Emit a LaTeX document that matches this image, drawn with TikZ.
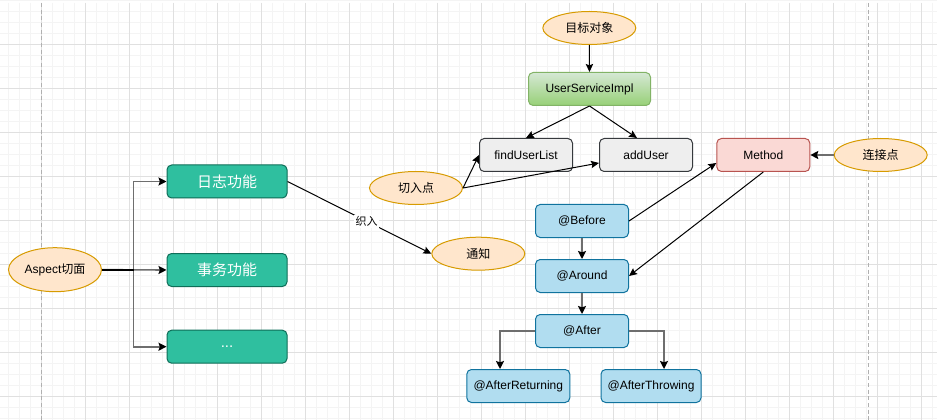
\documentclass[tikz,border=0pt]{standalone}
\usepackage{fontspec}
\setmainfont{Liberation Sans}
\newfontfamily\cjk{Noto Sans CJK SC}
\usetikzlibrary{shapes.geometric,arrows.meta,calc}
\definecolor{minorg}{HTML}{F4F4F4}
\definecolor{majorg}{HTML}{E0E0E0}
\definecolor{pageb}{HTML}{B0B0B0}
\definecolor{orfill}{HTML}{FFE6CC}
\definecolor{ordraw}{HTML}{D79B00}
\definecolor{gyfill}{HTML}{EEEEEE}
\definecolor{gydraw}{HTML}{36393D}
\definecolor{grtop}{HTML}{D5E8D4}
\definecolor{grbot}{HTML}{97D077}
\definecolor{grdraw}{HTML}{82B366}
\definecolor{rdfill}{HTML}{FAD9D5}
\definecolor{rddraw}{HTML}{B85450}
\definecolor{blfill}{HTML}{B1DDF0}
\definecolor{bldraw}{HTML}{10739E}
\definecolor{tlfill}{HTML}{2FBF9F}
\definecolor{tldraw}{HTML}{0E6E58}
\definecolor{edgegray}{HTML}{6E6E6E}
\begin{document}
\begin{tikzpicture}[x=0.75pt,y=-0.75pt,
  txt/.style={font=\fontsize{9}{11}\selectfont, text=black},
  ell/.style={ellipse, draw=ordraw, fill=orfill, line width=0.75pt, inner sep=0pt, minimum width=69.75pt, minimum height=24.75pt, txt},
  boxbase/.style={rectangle, rounded corners=3.5pt, line width=0.75pt, inner sep=0pt, minimum width=69.75pt, minimum height=24.75pt, txt},
  graybox/.style={boxbase, draw=gydraw, fill=gyfill},
  greenbox/.style={boxbase, draw=grdraw, top color=grtop, bottom color=grbot, minimum width=91.5pt},
  redbox/.style={boxbase, draw=rddraw, fill=rdfill},
  bluebox/.style={boxbase, draw=bldraw, fill=blfill},
  tealbox/.style={boxbase, draw=tldraw, fill=tlfill, minimum width=90pt, text=white, font=\fontsize{11.25}{13}\selectfont},
  blk/.style={draw=black, line width=0.75pt, -{Stealth[length=6pt,width=5.5pt,inset=1pt]}},
  gry/.style={draw=edgegray, line width=1.2pt, -{Stealth[length=6pt,width=6pt,inset=1pt,color=black]}},
  lbl/.style={fill=white, inner sep=1pt, font=\fontsize{8.25}{10}\selectfont}
]
\useasboundingbox (0,0) rectangle (937,420);
\fill[white] (0,0) rectangle (937,420);
% grid
\foreach \k in {0,...,84} { \draw[minorg, line width=0.75pt] ({8.3+11*\k},3) -- ({8.3+11*\k},420); }
\foreach \k in {0,...,38} { \draw[minorg, line width=0.75pt] (0,{0.3+11*\k}) -- (937,{0.3+11*\k}); }
\foreach \k in {0,...,20} { \draw[majorg, line width=0.75pt] ({41.3+44*\k},3) -- ({41.3+44*\k},420); }
\foreach \k in {1,...,9} { \draw[majorg, line width=0.75pt] (0,{0.3+44*\k}) -- (937,{0.3+44*\k}); }
\draw[pageb, line width=0.75pt, dash pattern=on 3pt off 2pt] (41.3,3) -- (41.3,420);
\draw[pageb, line width=0.75pt, dash pattern=on 3pt off 2pt] (868.3,3) -- (868.3,420);

% nodes
\node[ell, minimum height=33pt] (asp) at (55,269.7) {Aspect{\cjk 切面}};
\node[tealbox] (log) at (227,181.5) {\cjk 日志功能};
\node[tealbox] (tx) at (227,270) {\cjk 事务功能};
\node[tealbox] (etc) at (227,346.7) {...};

\node[ell] (target) at (589.3,28) {\cjk 目标对象};
\node[greenbox] (usi) at (589.5,89) {UserServiceImpl};
\node[graybox] (ful) at (526,155) {findUserList};
\node[graybox] (add) at (646,155) {addUser};
\node[ell] (cut) at (416,188) {\cjk 切入点};
\node[ell] (notify) at (478.3,253.7) {\cjk 通知};
\node[redbox] (method) at (763.3,155) {Method};
\node[ell] (jp) at (880.7,155) {\cjk 连接点};

\node[bluebox] (before) at (582,221) {@Before};
\node[bluebox] (around) at (582,276) {@Around};
\node[bluebox] (after) at (582,331) {@After};
\node[bluebox, minimum width=77.25pt] (ar) at (518.3,386) {@AfterReturning};
\node[bluebox, minimum width=75pt] (at) at (651,386) {@AfterThrowing};

% Aspect tree
\coordinate (trunk) at (133.5,269.7);
\draw[gry] (asp.east) -- (trunk) |- (log.west);
\draw[gry] (asp.east) -- (tx.west);
\draw[gry] (asp.east) -- (trunk) |- (etc.west);
\draw[draw=black, line width=1.2pt] (asp.east) -- (trunk);

% weave
\draw[blk] (log.east) -- node[lbl, pos=0.55] {\cjk 织入} (notify.west);

% target
\draw[blk] (target.south) -- (usi.north);
\draw[blk] (usi.south) -- (ful.north);
\draw[blk] (usi.south) -- ($(add.north)+(-9,0)$);
\draw[blk] (cut.east) -- (ful.west);
\draw[blk] (cut.east) -- ($(add.west)+(0,8)$);

% join point
\draw[gry] (jp.west) -- (method.east);
\draw[blk] (before.east) -- ($(method.west)+(0,8)$);
\draw[blk] (method.south) -- (around.east);

% advice chain
\draw[gry] (before.south) -- (around.north);
\draw[gry] (around.south) -- (after.north);
\draw[gry] (after.west) -| ($(ar.north)+(-18.3,0)$);
\draw[gry] (after.east) -| ($(at.north)+(13,0)$);
\end{tikzpicture}
\end{document}
